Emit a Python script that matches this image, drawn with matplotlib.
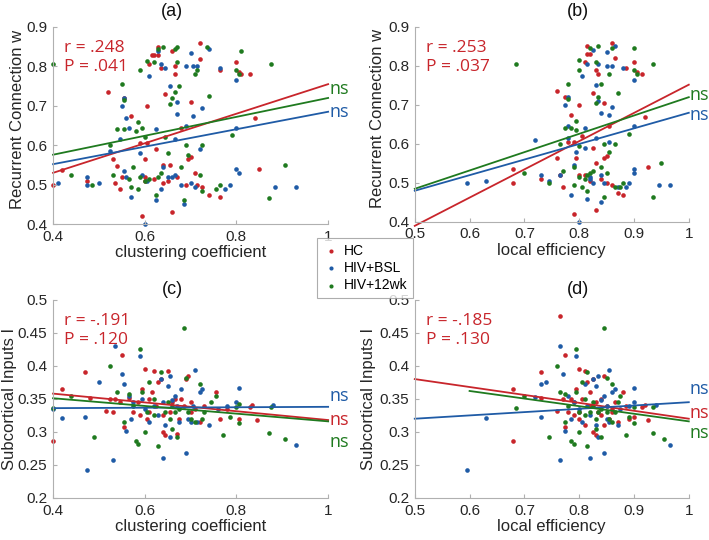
import matplotlib
matplotlib.use("Agg")
import matplotlib.pyplot as plt
import numpy as np

plt.rcParams['font.family'] = ['Liberation Sans', 'DejaVu Sans']

red = '#c8252b'
blue = '#1f5ba6'
green = '#1f7a1f'
group_names = ['HC', 'HIV+BSL', 'HIV+12wk']
group_colors = [red, blue, green]

# ---- panel (a): clustering coefficient vs recurrent connection w
a_hc = [(0.40,0.50),(0.42,0.538),(0.475,0.51),(0.52,0.735),(0.53,0.565),(0.535,0.505),(0.54,0.547),(0.545,0.49),
        (0.55,0.52),(0.555,0.72),(0.57,0.675),(0.59,0.605),(0.595,0.42),(0.60,0.565),(0.60,0.52),(0.605,0.70),
        (0.61,0.805),(0.615,0.83),(0.62,0.515),(0.625,0.59),(0.63,0.85),(0.63,0.83),(0.635,0.795),(0.64,0.505),
        (0.645,0.73),(0.65,0.51),(0.655,0.55),(0.66,0.43),(0.66,0.84),(0.665,0.78),(0.665,0.80),(0.67,0.52),
        (0.68,0.645),(0.69,0.50),(0.695,0.565),(0.70,0.57),(0.70,0.71),(0.71,0.53),(0.715,0.50),(0.72,0.86),
        (0.72,0.82),(0.725,0.495),(0.74,0.475),(0.765,0.47),(0.765,0.79),(0.80,0.81),(0.805,0.785),(0.81,0.78),
        (0.83,0.78),(0.84,0.67),(0.85,0.54),(0.62,0.83),(0.605,0.605),(0.64,0.55),(0.60,0.51)]
a_bsl = [(0.41,0.505),(0.475,0.52),(0.475,0.50),(0.50,0.505),(0.525,0.585),(0.545,0.615),(0.55,0.70),(0.555,0.72),
         (0.555,0.535),(0.56,0.52),(0.56,0.67),(0.565,0.645),(0.57,0.47),(0.59,0.58),(0.595,0.525),(0.60,0.40),
         (0.605,0.51),(0.61,0.775),(0.625,0.64),(0.625,0.46),(0.63,0.84),(0.635,0.805),(0.635,0.49),(0.64,0.545),
         (0.645,0.795),(0.65,0.52),(0.655,0.75),(0.66,0.52),(0.665,0.615),(0.67,0.71),(0.67,0.68),(0.68,0.50),
         (0.685,0.45),(0.69,0.65),(0.69,0.80),(0.70,0.835),(0.705,0.80),(0.705,0.675),(0.71,0.495),(0.715,0.80),
         (0.72,0.59),(0.725,0.695),(0.74,0.845),(0.765,0.795),(0.775,0.49),(0.785,0.50),(0.80,0.765),(0.80,0.645),
         (0.80,0.54),(0.805,0.53),(0.885,0.495),(0.93,0.495),(0.70,0.505),(0.665,0.525)]
a_12wk = [(0.40,0.805),(0.44,0.525),(0.485,0.50),(0.525,0.60),(0.53,0.525),(0.54,0.64),(0.55,0.755),(0.555,0.64),
          (0.555,0.715),(0.565,0.515),(0.57,0.495),(0.575,0.545),(0.58,0.635),(0.585,0.66),(0.585,0.49),(0.59,0.79),
          (0.59,0.52),(0.595,0.645),(0.60,0.62),(0.605,0.815),(0.61,0.515),(0.62,0.81),(0.625,0.475),(0.63,0.845),
          (0.635,0.53),(0.64,0.85),(0.645,0.62),(0.65,0.58),(0.655,0.705),(0.66,0.72),(0.665,0.735),(0.665,0.845),
          (0.67,0.85),(0.67,0.81),(0.675,0.75),(0.68,0.545),(0.685,0.46),(0.69,0.60),(0.695,0.575),(0.71,0.78),
          (0.715,0.79),(0.72,0.525),(0.725,0.60),(0.725,0.485),(0.735,0.85),(0.74,0.725),(0.755,0.49),(0.765,0.50),
          (0.79,0.625),(0.80,0.79),(0.805,0.78),(0.81,0.84),(0.87,0.465),(0.875,0.805),(0.905,0.55),(0.63,0.52),(0.60,0.51)]

# ---- panel (b): local efficiency vs recurrent connection w
b_hc = [(0.68,0.535),(0.68,0.50),(0.73,0.51),(0.76,0.735),(0.76,0.565),(0.765,0.52),(0.77,0.49),(0.775,0.72),
        (0.78,0.605),(0.785,0.675),(0.79,0.42),(0.795,0.565),(0.80,0.52),(0.80,0.70),(0.805,0.62),(0.81,0.81),
        (0.815,0.85),(0.82,0.83),(0.82,0.505),(0.825,0.73),(0.825,0.59),(0.83,0.79),(0.83,0.43),(0.83,0.55),
        (0.835,0.78),(0.84,0.51),(0.845,0.565),(0.845,0.705),(0.85,0.57),(0.85,0.50),(0.855,0.645),(0.86,0.86),
        (0.86,0.495),(0.865,0.82),(0.87,0.475),(0.88,0.47),(0.885,0.795),(0.90,0.81),(0.905,0.785),(0.915,0.78),
        (0.92,0.67),(0.925,0.54),(0.815,0.83),(0.81,0.52),(0.79,0.605)]
b_bsl = [(0.595,0.50),(0.63,0.505),(0.72,0.61),(0.73,0.52),(0.745,0.505),(0.765,0.52),(0.775,0.70),(0.78,0.72),
         (0.78,0.645),(0.78,0.615),(0.785,0.47),(0.79,0.545),(0.795,0.58),(0.80,0.40),(0.805,0.775),(0.81,0.59),
         (0.81,0.64),(0.815,0.46),(0.815,0.805),(0.82,0.515),(0.825,0.84),(0.825,0.50),(0.83,0.75),(0.83,0.615),
         (0.835,0.805),(0.835,0.71),(0.84,0.68),(0.84,0.45),(0.845,0.50),(0.85,0.835),(0.85,0.80),(0.855,0.675),
         (0.855,0.605),(0.86,0.80),(0.86,0.695),(0.865,0.85),(0.87,0.49),(0.88,0.795),(0.885,0.49),(0.89,0.50),
         (0.90,0.765),(0.90,0.645),(0.90,0.535),(0.90,0.525),(0.945,0.495),(0.965,0.495),(0.82,0.51),(0.84,0.52)]
b_12wk = [(0.685,0.805),(0.70,0.525),(0.745,0.50),(0.765,0.60),(0.77,0.53),(0.775,0.64),(0.78,0.755),(0.78,0.715),
          (0.785,0.64),(0.79,0.495),(0.79,0.54),(0.795,0.66),(0.795,0.635),(0.80,0.79),(0.80,0.815),(0.80,0.515),
          (0.805,0.49),(0.81,0.51),(0.815,0.48),(0.82,0.845),(0.82,0.525),(0.825,0.53),(0.83,0.81),(0.83,0.705),
          (0.835,0.85),(0.835,0.72),(0.84,0.755),(0.84,0.54),(0.845,0.465),(0.845,0.60),(0.85,0.525),(0.855,0.78),
          (0.855,0.58),(0.86,0.845),(0.865,0.60),(0.865,0.49),(0.87,0.73),(0.875,0.49),(0.88,0.50),(0.89,0.625),
          (0.90,0.845),(0.90,0.79),(0.905,0.78),(0.935,0.465),(0.935,0.805),(0.95,0.55),(0.815,0.52),(0.80,0.595)]

# ---- panel (c): clustering coefficient vs subcortical inputs I
c_hc = [(0.40,0.287),(0.42,0.365),(0.47,0.39),(0.48,0.351),(0.515,0.331),(0.525,0.35),(0.53,0.33),(0.535,0.35),
        (0.545,0.345),(0.55,0.417),(0.555,0.307),(0.565,0.352),(0.575,0.33),(0.585,0.345),(0.59,0.325),(0.595,0.365),
        (0.60,0.396),(0.605,0.32),(0.61,0.35),(0.615,0.36),(0.62,0.392),(0.625,0.34),(0.63,0.375),(0.635,0.38),
        (0.64,0.30),(0.645,0.295),(0.65,0.392),(0.655,0.33),(0.66,0.345),(0.665,0.35),(0.67,0.297),(0.675,0.32),
        (0.68,0.35),(0.685,0.34),(0.69,0.38),(0.695,0.385),(0.70,0.345),(0.71,0.335),(0.72,0.315),(0.73,0.34),
        (0.755,0.36),(0.765,0.319),(0.78,0.335),(0.805,0.32),(0.83,0.337),(0.835,0.341),(0.845,0.318),(0.61,0.33),
        (0.64,0.325),(0.70,0.33)]
c_bsl = [(0.40,0.335),(0.42,0.321),(0.47,0.323),(0.475,0.243),(0.50,0.376),(0.53,0.257),(0.535,0.43),(0.55,0.387),
         (0.555,0.372),(0.56,0.302),(0.565,0.355),(0.57,0.32),(0.575,0.345),(0.59,0.415),(0.595,0.35),(0.60,0.335),
         (0.61,0.315),(0.62,0.34),(0.63,0.325),(0.635,0.38),(0.64,0.26),(0.645,0.31),(0.65,0.37),(0.655,0.385),
         (0.66,0.348),(0.665,0.355),(0.67,0.34),(0.675,0.315),(0.68,0.365),(0.69,0.268),(0.695,0.32),(0.70,0.315),
         (0.705,0.34),(0.71,0.393),(0.715,0.315),(0.72,0.36),(0.725,0.365),(0.74,0.31),(0.76,0.335),(0.78,0.34),
         (0.80,0.345),(0.805,0.367),(0.88,0.341),(0.93,0.28),(0.655,0.292),(0.64,0.345)]
c_12wk = [(0.40,0.336),(0.44,0.355),(0.49,0.293),(0.525,0.40),(0.54,0.36),(0.555,0.315),(0.565,0.358),(0.575,0.34),
          (0.58,0.287),(0.585,0.282),(0.59,0.425),(0.595,0.36),(0.60,0.30),(0.605,0.33),(0.61,0.375),(0.62,0.35),
          (0.63,0.278),(0.635,0.39),(0.645,0.33),(0.65,0.345),(0.655,0.32),(0.66,0.305),(0.665,0.33),(0.67,0.293),
          (0.675,0.335),(0.685,0.457),(0.69,0.382),(0.695,0.33),(0.70,0.32),(0.71,0.315),(0.72,0.373),(0.725,0.32),
          (0.73,0.33),(0.745,0.345),(0.755,0.355),(0.77,0.295),(0.785,0.323),(0.80,0.337),(0.805,0.342),(0.805,0.313),
          (0.87,0.298),(0.875,0.337),(0.905,0.29),(0.62,0.325),(0.66,0.34)]

# ---- panel (d): local efficiency vs subcortical inputs I
d_hc = [(0.68,0.287),(0.68,0.365),(0.73,0.39),(0.73,0.351),(0.76,0.331),(0.765,0.476),(0.77,0.35),(0.775,0.307),
        (0.775,0.417),(0.78,0.33),(0.785,0.35),(0.79,0.325),(0.79,0.345),(0.795,0.365),(0.80,0.396),(0.80,0.32),
        (0.805,0.35),(0.81,0.392),(0.81,0.31),(0.815,0.375),(0.82,0.36),(0.82,0.34),(0.825,0.38),(0.825,0.30),
        (0.83,0.345),(0.83,0.295),(0.835,0.33),(0.84,0.35),(0.845,0.385),(0.845,0.31),(0.85,0.34),(0.855,0.32),
        (0.86,0.335),(0.865,0.345),(0.87,0.315),(0.88,0.36),(0.885,0.34),(0.89,0.32),(0.90,0.322),(0.915,0.337),
        (0.92,0.341),(0.925,0.318),(0.80,0.33),(0.84,0.325),(0.86,0.33)]
d_bsl = [(0.595,0.243),(0.63,0.321),(0.72,0.353),(0.73,0.323),(0.73,0.373),(0.74,0.376),(0.765,0.257),(0.765,0.43),
         (0.77,0.387),(0.775,0.302),(0.78,0.355),(0.785,0.32),(0.79,0.345),(0.795,0.415),(0.80,0.335),(0.805,0.315),
         (0.81,0.372),(0.815,0.34),(0.82,0.26),(0.82,0.325),(0.825,0.38),(0.83,0.31),(0.83,0.37),(0.835,0.385),
         (0.84,0.348),(0.845,0.268),(0.845,0.355),(0.85,0.34),(0.855,0.393),(0.855,0.315),(0.86,0.36),(0.865,0.365),
         (0.87,0.31),(0.875,0.335),(0.89,0.34),(0.90,0.345),(0.90,0.367),(0.94,0.341),(0.965,0.28),(0.835,0.292),(0.85,0.32)]
d_12wk = [(0.685,0.336),(0.70,0.355),(0.745,0.293),(0.76,0.40),(0.765,0.36),(0.775,0.315),(0.775,0.358),(0.78,0.34),
          (0.785,0.287),(0.79,0.282),(0.795,0.425),(0.795,0.36),(0.80,0.30),(0.80,0.33),(0.805,0.375),(0.81,0.35),
          (0.815,0.278),(0.815,0.39),(0.82,0.33),(0.825,0.345),(0.83,0.32),(0.83,0.305),(0.835,0.33),(0.84,0.293),
          (0.84,0.335),(0.845,0.457),(0.85,0.382),(0.85,0.33),(0.855,0.32),(0.86,0.373),(0.86,0.315),(0.865,0.33),
          (0.87,0.345),(0.875,0.355),(0.885,0.295),(0.89,0.323),(0.90,0.337),(0.90,0.313),(0.935,0.298),(0.935,0.337),
          (0.955,0.29),(0.81,0.325),(0.825,0.34)]

# fitted lines: (x_start, y_start, x_end, y_end) for HC, BSL, 12wk
a_fits = [(0.4, 0.530, 1.0, 0.755), (0.4, 0.552, 1.0, 0.685), (0.4, 0.576, 1.0, 0.720)]
b_fits = [(0.5, 0.390, 1.0, 0.752), (0.5, 0.480, 1.0, 0.680), (0.5, 0.485, 1.0, 0.720)]
c_fits = [(0.4, 0.358, 1.0, 0.318), (0.4, 0.336, 1.0, 0.338), (0.4, 0.351, 1.0, 0.316)]
d_fits = [(0.5, 0.380, 1.0, 0.320), (0.5, 0.320, 1.0, 0.345), (0.6, 0.362, 1.0, 0.316)]

# "ns" labels: (y position, colour index)
a_ns = [(0.742, 2), (0.685, 1)]
b_ns = [(0.726, 2), (0.674, 1)]
c_ns = [(0.355, 1), (0.318, 0), (0.284, 2)]
d_ns = [(0.365, 1), (0.329, 0), (0.299, 2)]

stats = ['r = .248\nP = .041', 'r = .253\nP = .037', 'r = -.191\nP = .120', 'r = -.185\nP = .130']
titles = ['(a)', '(b)', '(c)', '(d)']
xlabels = ['clustering coefficient', 'local efficiency'] * 2
ylabels = ['Recurrent Connection w'] * 2 + ['Subcortical Inputs I'] * 2
xticks_cc = [0.4, 0.6, 0.8, 1.0]
xticks_le = [0.5, 0.6, 0.7, 0.8, 0.9, 1.0]
yticks_w = [0.4, 0.5, 0.6, 0.7, 0.8, 0.9]
yticks_i = [0.2, 0.25, 0.3, 0.35, 0.4, 0.45, 0.5]

panels = [
    dict(data=[a_hc, a_bsl, a_12wk], fits=a_fits, ns=a_ns, xlim=(0.4, 1), ylim=(0.4, 0.9),
         xt=xticks_cc, yt=yticks_w, rect=[0.0748, 0.585, 0.388, 0.365], ylab=(-0.13, 0.53)),
    dict(data=[b_hc, b_bsl, b_12wk], fits=b_fits, ns=b_ns, xlim=(0.5, 1), ylim=(0.4, 0.9),
         xt=xticks_le, yt=yticks_w, rect=[0.585, 0.589, 0.3865, 0.361], ylab=(-0.135, 0.53)),
    dict(data=[c_hc, c_bsl, c_12wk], fits=c_fits, ns=c_ns, xlim=(0.4, 1), ylim=(0.2, 0.5),
         xt=xticks_cc, yt=yticks_i, rect=[0.0748, 0.0778, 0.388, 0.367], ylab=(-0.158, 0.5)),
    dict(data=[d_hc, d_bsl, d_12wk], fits=d_fits, ns=d_ns, xlim=(0.5, 1), ylim=(0.2, 0.5),
         xt=xticks_le, yt=yticks_i, rect=[0.585, 0.0778, 0.3865, 0.367], ylab=(-0.168, 0.5)),
]
title_pos = [(172, 11), (578, 11), (172, 290), (578, 290)]

fig = plt.figure(figsize=(7.09, 5.40), dpi=100)

handles = []
for i, p in enumerate(panels):
    ax = fig.add_axes(p['rect'])
    for pts, col, name in zip(p['data'], group_colors, group_names):
        arr = np.array(pts)
        h = ax.scatter(arr[:, 0], arr[:, 1], s=11, color=col, linewidths=0, label=name, clip_on=False)
        if i == 0:
            handles.append(h)
    for (x0, y0, x1, y1), col in zip(p['fits'], group_colors):
        ax.plot([x0, x1], [y0, y1], color=col, lw=1.3, clip_on=False)
    for y, ci in p['ns']:
        ax.text(1.004, y, 'ns', color=group_colors[ci], fontsize=13, family=['Open Sans', 'DejaVu Sans'],
                ha='left', va='center', transform=ax.get_yaxis_transform())
    ax.text(0.04, 0.935, stats[i], transform=ax.transAxes, color=red, fontsize=12.5,
            family=['Open Sans', 'DejaVu Sans'], va='top', ha='left', linespacing=1.25)
    ax.set_xlim(*p['xlim'])
    ax.set_ylim(*p['ylim'])
    ax.set_xticks(p['xt'])
    ax.set_yticks(p['yt'])
    ax.xaxis.set_major_formatter(plt.FormatStrFormatter('%g'))
    ax.yaxis.set_major_formatter(plt.FormatStrFormatter('%g'))
    for s in ['top', 'right']:
        ax.spines[s].set_visible(False)
    for s in ['left', 'bottom']:
        ax.spines[s].set_color('#b0b0b0')
        ax.spines[s].set_linewidth(0.8)
    ax.tick_params(direction='in', length=3, color='#b0b0b0', labelsize=11, labelcolor='#262626')
    ax.tick_params(axis='x', pad=4)
    ax.tick_params(axis='y', pad=4)
    ax.set_xlabel(xlabels[i], fontsize=12, color='#262626', labelpad=1)
    ax.set_ylabel(ylabels[i], fontsize=12, color='#262626', va='center')
    ax.yaxis.set_label_coords(*p['ylab'])
    tx, ty = title_pos[i]
    fig.text(tx / 709, 1 - ty / 540, titles[i], fontsize=13, ha='center', va='center', color='#111111')

leg = fig.legend(handles=handles, loc='center', bbox_to_anchor=(365 / 709, 1 - 268 / 540),
                 fontsize=10, frameon=True, fancybox=False, handletextpad=0.3, borderpad=0.4,
                 labelspacing=0.25, markerscale=0.9, handlelength=1.2)
leg.get_frame().set_edgecolor('#999999')
leg.get_frame().set_linewidth(0.8)

fig.savefig('out.png', dpi=100)
